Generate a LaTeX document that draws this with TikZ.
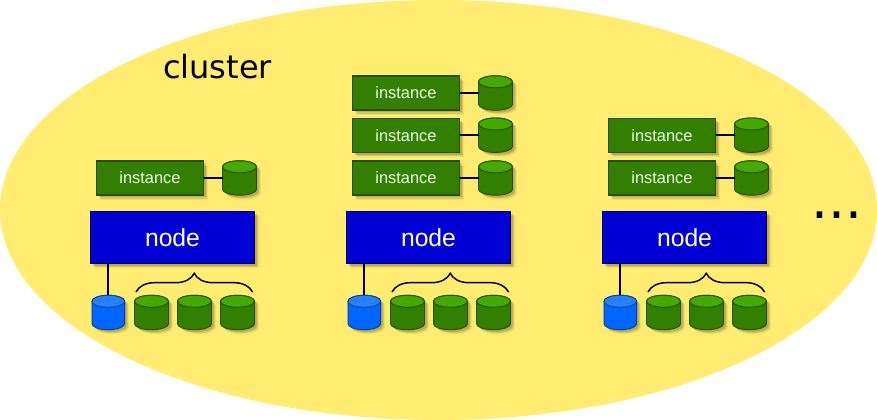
\documentclass[tikz,border=0pt]{standalone}
\usepackage{fontspec}
\setmainfont{Liberation Sans}
\newfontfamily\dejavu{DejaVu Sans}
\usetikzlibrary{shapes.geometric,shadows,decorations.pathreplacing,calc}
\definecolor{yellowbg}{HTML}{FFEC70}
\definecolor{greenbody}{HTML}{338000}
\definecolor{greentop}{HTML}{44AA00}
\definecolor{greenedge}{HTML}{224F00}
\definecolor{bluebox}{HTML}{0000D4}
\definecolor{blueedge}{HTML}{000066}
\definecolor{bluebody}{HTML}{0066FF}
\definecolor{bluetop}{HTML}{2A7FFF}
\definecolor{blueline}{HTML}{0044AA}
\tikzset{
  x=0.75pt,y=-0.75pt,
  softshadow/.style={
    general shadow={shadow xshift=3.6pt,shadow yshift=-3.6pt,fill=black,opacity=.05},
    general shadow={shadow xshift=2.7pt,shadow yshift=-2.7pt,fill=black,opacity=.10},
    general shadow={shadow xshift=1.8pt,shadow yshift=-1.8pt,fill=black,opacity=.14}},
  instbox/.style={rectangle,draw=greenedge,line width=.8pt,fill=greenbody,text=white!92!green,
    minimum width=80.5pt,minimum height=25.5pt,inner sep=0pt,outer sep=0pt,
    font=\fontsize{12.3pt}{14pt}\selectfont,softshadow},
  nodebox/.style={rectangle,draw=blueedge,line width=.8pt,fill=bluebox,text=white,
    minimum width=123.5pt,minimum height=39pt,inner sep=0pt,outer sep=0pt,
    font=\fontsize{18.5pt}{20pt}\selectfont,softshadow},
  drumbox/.style={rectangle,minimum width=25.5pt,minimum height=25.8pt,inner sep=0pt,outer sep=0pt},
  wire/.style={draw=black,line width=1.45pt},
  bracket/.style={draw=black,line width=1.1pt,decorate,decoration={brace,amplitude=14pt}},
}
\newcommand\drumsil{(-17,-11.2) .. controls (-17,-14.5) and (-9.4,-17.2) .. (0,-17.2) .. controls (9.4,-17.2) and (17,-14.5) .. (17,-11.2) -- (17,11.2) .. controls (17,14.5) and (9.4,17.2) .. (0,17.2) .. controls (-9.4,17.2) and (-17,14.5) .. (-17,11.2) -- cycle}
\newcommand\drumat[7]{% name, x, y, body, top, edge, xscale
  \node[drumbox] (#1) at (#2,#3) {};
  \begin{scope}[shift={(#2,#3)},xscale=#7]
    \fill[black,opacity=.05] [shift={(4.4,4.4)}] \drumsil;
    \fill[black,opacity=.10] [shift={(3.4,3.4)}] \drumsil;
    \fill[black,opacity=.14] [shift={(2.2,2.2)}] \drumsil;
    \path[fill=#4,draw=#6,line width=.7pt] \drumsil;
    \path[fill=#5,draw=#6,line width=.7pt] (0,-11.2) ellipse[x radius=12.75pt,y radius=4.5pt];
  \end{scope}
}
\newcommand\gdrum[3]{\drumat{#1}{#2}{#3}{greenbody}{greentop}{greenedge}{1}}
\newcommand\bdrum[3]{\drumat{#1}{#2}{#3}{bluebody}{bluetop}{blueline}{.96}}
\begin{document}
\begin{tikzpicture}
\useasboundingbox (0,0) rectangle (877,420);
\node[ellipse,fill=yellowbg,minimum width=657.75pt,minimum height=315pt,inner sep=0pt,outer sep=0pt] (cluster) at (438.5,210) {};
\node[anchor=base,font=\dejavu\fontsize{24pt}{28pt}\selectfont,text=black] (clusterlabel) at (217.5,79) {cluster};
\node[anchor=base west,font=\dejavu\fontsize{40pt}{44pt}\selectfont,text=black] (more) at (807,219) {...};
% column 1
\node[instbox] (i1a) at (150,178) {instance};
\gdrum{d1a}{239.5}{178}
\draw[wire] (i1a.east) -- (d1a.west);
\node[nodebox] (n1) at (172.5,237.5) {node};
\bdrum{b1}{108.3}{312.5}
\gdrum{g1a}{151.5}{312.5}
\gdrum{g1b}{194.5}{312.5}
\gdrum{g1c}{237.5}{312.5}
\draw[wire] (n1.south -| b1.north) -- (b1.north);
\coordinate (l1) at (136,292); \coordinate (r1) at (252.5,292);
\draw[bracket] (l1) -- (r1);
% column 2
\foreach \nm/\yy in {a/93,b/135.2,c/178}{
  \node[instbox] (i2\nm) at (406,\yy) {instance};
  \gdrum{d2\nm}{495.5}{\yy}
  \draw[wire] (i2\nm.east) -- (d2\nm.west);
}
\node[nodebox] (n2) at (428.5,237.5) {node};
\bdrum{b2}{364.3}{312.5}
\gdrum{g2a}{407.5}{312.5}
\gdrum{g2b}{450.5}{312.5}
\gdrum{g2c}{493.5}{312.5}
\draw[wire] (n2.south -| b2.north) -- (b2.north);
\coordinate (l2) at (392,292); \coordinate (r2) at (508.5,292);
\draw[bracket] (l2) -- (r2);
% column 3
\foreach \nm/\yy in {b/135.2,c/178}{
  \node[instbox] (i3\nm) at (662,\yy) {instance};
  \gdrum{d3\nm}{751.5}{\yy}
  \draw[wire] (i3\nm.east) -- (d3\nm.west);
}
\node[nodebox] (n3) at (684.5,237.5) {node};
\bdrum{b3}{620.3}{312.5}
\gdrum{g3a}{663.5}{312.5}
\gdrum{g3b}{706.5}{312.5}
\gdrum{g3c}{749.5}{312.5}
\draw[wire] (n3.south -| b3.north) -- (b3.north);
\coordinate (l3) at (648,292); \coordinate (r3) at (764.5,292);
\draw[bracket] (l3) -- (r3);
\end{tikzpicture}
\end{document}
